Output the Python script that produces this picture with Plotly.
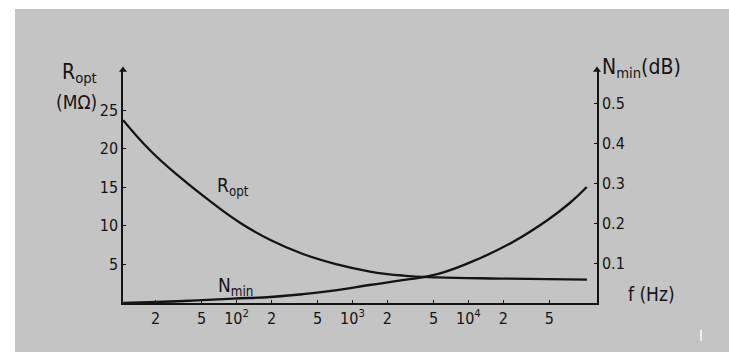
import plotly.graph_objects as go

# Optimum source resistance R_opt (MΩ) versus frequency
ropt_freq = [10.5, 17.9, 32.5, 59, 107, 194, 374, 735, 1416, 2729, 5358, 18750, 105400]
ropt_val = [23.7, 19.8, 16.3, 13.2, 10.4, 8.2, 6.35, 5.0, 4.08, 3.56, 3.33, 3.17, 3.04]

# Minimum noise figure N_min (dB) versus frequency
nmin_freq = [10.5, 35, 93, 195, 375, 735, 1400, 2700, 5400, 12600, 24000, 48000, 75000, 105000]
nmin_val = [0.0, 0.005, 0.011, 0.015, 0.022, 0.032, 0.045, 0.057, 0.072, 0.112, 0.152, 0.207, 0.25, 0.29]

# Axis ticks
x_tickvals = [20, 50, 100, 200, 500, 1000, 2000, 5000, 10000, 20000, 50000]
x_ticktext = ["2", "5", "10<sup>2</sup>", "2", "5", "10<sup>3</sup>", "2", "5", "10<sup>4</sup>", "2", "5"]
r_tickvals = [5, 10, 15, 20, 25]
r_ticktext = ["5", "10", "15", "20", "25"]
n_tickvals = [0.1, 0.2, 0.3, 0.4, 0.5]
n_ticktext = ["0.1", "0.2", "0.3", "0.4", "0.5"]

W, H = 729, 352
L, R, T, B = 123, 597, 70, 303
FONT = "Liberation Sans Narrow, DejaVu Sans Condensed, Arial Narrow, sans-serif"
INK = "#141414"
X_RANGE = [1.02, 5.11]
R_TOP = 30.2
N_TOP = 0.5825


def px(x):
    return (x - L) / (R - L)


def py(y):
    return (B - y) / (B - T)


curve_line = dict(color=INK, width=2.3, shape="spline", smoothing=1.3)

fig = go.Figure()
fig.add_trace(go.Scatter(x=ropt_freq, y=ropt_val, mode="lines", line=curve_line,
                         yaxis="y", showlegend=False, hoverinfo="skip"))
fig.add_trace(go.Scatter(x=nmin_freq, y=nmin_val, mode="lines", line=curve_line,
                         yaxis="y2", showlegend=False, hoverinfo="skip"))

# arrow heads on the two vertical axes
fig.add_trace(go.Scatter(x=[10 ** X_RANGE[0]], y=[R_TOP], mode="markers", yaxis="y", cliponaxis=False,
                         marker=dict(symbol="triangle-up", size=7, color=INK), showlegend=False, hoverinfo="skip"))
fig.add_trace(go.Scatter(x=[10 ** X_RANGE[1]], y=[N_TOP], mode="markers", yaxis="y2", cliponaxis=False,
                         marker=dict(symbol="triangle-up", size=7, color=INK), showlegend=False, hoverinfo="skip"))

axis_common = dict(showgrid=False, zeroline=False, showline=True, linecolor=INK, linewidth=1.5,
                   ticks="inside", ticklen=3, tickcolor=INK, tickwidth=1.2,
                   tickfont=dict(family=FONT, size=16, color=INK))

fig.update_layout(
    width=W, height=H,
    margin=dict(l=L, r=W - R, t=T, b=H - B, pad=0),
    paper_bgcolor="white", plot_bgcolor="rgba(0,0,0,0)",
    xaxis=dict(type="log", range=X_RANGE, tickvals=x_tickvals, ticktext=x_ticktext, **axis_common),
    yaxis=dict(range=[0, R_TOP], tickvals=r_tickvals, ticktext=r_ticktext, **axis_common),
    yaxis2=dict(range=[0, N_TOP], tickvals=n_tickvals, ticktext=n_ticktext, overlaying="y", side="right",
                **axis_common),
)

# grey card the drawing sits on
fig.add_shape(type="rect", xref="paper", yref="paper", layer="below",
              x0=px(15), x1=px(729), y0=py(352), y1=py(9), fillcolor="#c4c4c4", line=dict(width=0))
# small white scratch near the lower right corner
fig.add_shape(type="line", xref="paper", yref="paper", x0=px(701), x1=px(701), y0=py(330), y1=py(341),
              line=dict(color="white", width=1.5))


def label(text, x, y, size=18, anchor="left"):
    fig.add_annotation(text=text, xref="paper", yref="paper", x=px(x), y=py(y), showarrow=False,
                       xanchor=anchor, yanchor="middle", font=dict(family=FONT, size=size, color=INK))


label("R<sub>opt</sub>", 60, 73, size=21)
label("(MΩ)", 99, 102, size=19, anchor="right")
label("N<sub>min</sub>(dB)", 600, 68, size=21)
label("f (Hz)", 626, 294, size=19)
label("R<sub>opt</sub>", 215, 186, size=19)
label("N<sub>min</sub>", 216, 286, size=19)

fig.write_html("out.html")
